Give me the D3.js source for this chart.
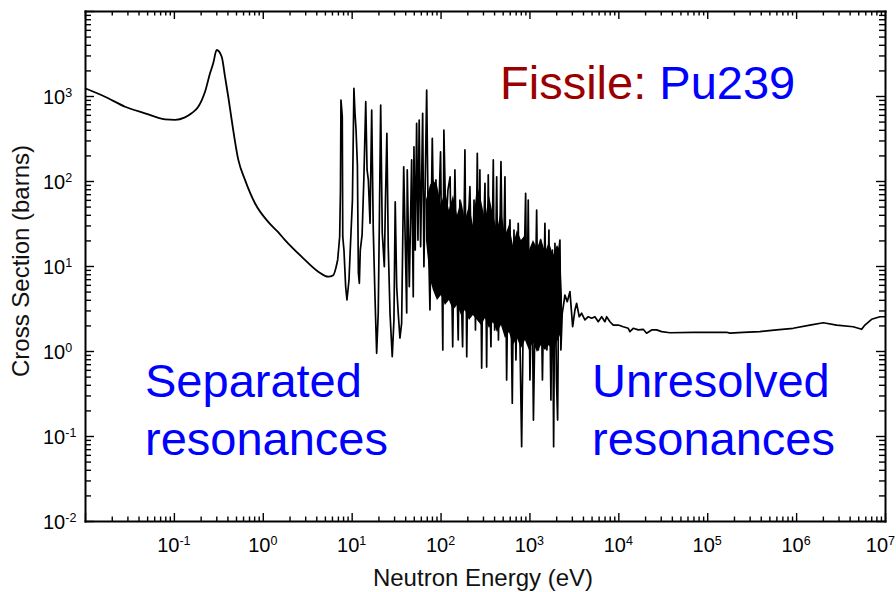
<!DOCTYPE html>
<html><head><meta charset="utf-8">
<script src="https://cdn.jsdelivr.net/npm/d3@7"></script>
<style>
body{margin:0;background:#fff}
svg{display:block}
text{font-family:"Liberation Sans",Arial,Helvetica,sans-serif}
</style>
</head><body>
<svg id="c" width="896" height="592"></svg>
<script>
// ---- data: [energy (eV), cross section (barns)] ----
const thermal = [[0.01,1233],[0.0168,980],[0.0282,748],[0.0473,626],[0.0794,532],[0.103,525],[0.133,561],[0.158,626],[0.188,748],[0.206,897],[0.224,1122],[0.255,1850],[0.277,2427],[0.303,3475],[0.345,2900],[0.376,1687],[0.409,980],[0.447,522],[0.531,177],[0.631,103],[0.817,54.7],[1.15,33],[1.49,25],[1.78,20.2],[2.73,12.9],[4.21,8.57],[5.46,7.48],[6.21,7.8],[6.96,11.8]];
const resolved = [[6.96,11.8],[7.33,22.1],[7.48,78],[7.58,897],[7.84,571],[7.94,22],[8.19,15.4],[8.56,5.7],[8.85,3.98],[9.33,6.84],[9.64,15.4],[10.2,59.8],[10.6,1233],[10.9,631],[11.2,398],[11.6,154],[11.9,8.27],[12.2,6.26],[12.5,15.4],[13.1,23.2],[13.7,103],[14.4,857],[14.9,135],[15.4,103],[16.1,31.8],[16.8,684],[17.5,26.5],[18.3,4.35],[19.1,0.94],[19.9,2.8],[20.5,34.8],[21.2,784],[22.1,24.3],[23.3,9.8],[24.0,59.8],[24.9,364],[25.8,16.9],[27.0,2.8],[28.6,0.857],[29.9,2.32],[30.9,57],[32.1,5.7],[33.4,2.8],[34.9,1.42],[36.5,2.13],[38.5,147],
[41.6,2.8],[42.2,135],[44.5,5.7],[47.3,177],[49.3,4.35],[50.2,253],[51.9,15.4],[53.8,478],[55.7,20.2],[57.5,522],[59.7,16.9],[62.9,625],[65.0,9.8],[69.8,1177],[72.8,26.5],[76.0,3.04],[80.7,318],[84.9,11.8],[88.7,103],[93.5,20.2],[100,221],[106,1.03],[109,398],[115,26.5],[121,78],[128,112],[137,1.12],[145,135],[151,11.8],[158,1.35],[165,59.8],[172,3.98],[177,1.12],[188,232],[197,0.857],[206,34.8],[214,85.7],[226,3.98],[238,59.8],[247,1.77],[259,212],[270,3.98],
[277,135],[290,0.63],[300,11.8],[316,94],[330,0.65],[344,118],[359,3.98],[369,1.12],[392,177],[406,1.77],[428,112],[448,1.35],[478,169],[503,3.98],[530,112],[554,0.456],[577,15.4],[604,34.8],[641,0.243],[670,26.5],[705,0.784],[748,31.8],[782,1.35],[817,0.0748],[857,3.98],[906,71.7],[937,1.77],[969,59.8],[1013,0.456],[1067,8.97],[1109,0.154],[1205,45.6],[1262,1.03],[1330,20.2],[1400,0.456],[1493,31.8],[1573,1.03],[1656,26.5],[1745,0.265],[1814,15.4],[1871,0.0748],[1936,18.5],[2013,0.456],[2075,0.154],[2147,15.4],[2203,20.2],[2259,1.03],[2338,2.78]];
const unresolved = [[2462,3.98],[2506,4.56],[2661,3.8],[2855,4.99],[3063,1.93],[3251,3.04],[3396,3.64],[3632,2.53],[3866,2.78],[4210,2.32],[4586,2.53],[5008,2.43],[5455,2.53],[5942,2.21],[6491,2.53],[7069,2.21],[7385,2.53],[8049,2.21],[8767,2.02],[9980,2.02],[11350,1.93],[12920,1.85],[13500,1.69],[14710,1.85],[16740,1.77],[19060,1.8],[20800,1.62],[23700,1.77],[27000,1.77],[30700,1.69],[38000,1.64],[69600,1.66],[165000,1.66],[180000,1.62],[254000,1.66],[391000,1.69],[603000,1.77],[927000,1.85],[1.43e6,2.02],[2.02e6,2.15],[2.86e6,2.02],[4.39e6,1.93],[5.46e6,1.8],[5.94e6,2.02],[7.07e6,2.36],[8.77e6,2.53],[1e7,2.53]];
// dense (unresolvable on this scale) resonance band: energy, upper and lower envelope
const bandEnergy = [68.5,76,82.1,91.1,101,112,124,138,153,170,188,209,231,257,285,316,350,389,431,478,530,588,652,723,802,890,987,1095,1214,1347,1494,1657,1838,2039,2203,2321];
const bandHigh   = [60,89.7,103,89.7,52.2,78.4,45.6,68.4,39.8,59.8,34.8,52.2,30.4,89.7,59.8,34.8,68.4,39.8,26.5,45.6,23.2,30.4,17.7,26.5,20.2,23.2,15.4,20.2,16.3,21.3,14.6,19.2,13.5,17.7,15.4,4.56];
const bandLow    = [20,7,5.22,3.98,4.56,3.48,3.98,3.04,3.48,2.65,3.04,2.32,2.65,2.32,2.02,2.44,1.87,2.19,1.67,2.02,1.42,1.67,1.18,1.42,1.08,1.35,1.03,1.28,0.973,1.18,1.03,1.18,0.973,1.28,1.54,2.32];
// tick labels (powers of ten)
const xLabelExps = [-1,0,1,2,3,4,5,6,7];
const yLabelExps = [-2,-1,0,1,2,3];
// texts
const xTitle = "Neutron Energy (eV)";
const yTitle = "Cross Section (barns)";
const titleParts = ["Fissile: ", "Pu239"];
const regionLabels = [["Separated","resonances"],["Unresolved","resonances"]];

// ---- drawing ----
const svg = d3.select("#c");
const x = d3.scaleLog().domain([1e-2,1e7]).range([85,885]);
const y = d3.scaleLog().domain([1e-2,1e4]).range([521,11]);
const [X0,X1] = x.range(), [Y0,Y1] = y.range();
const isMajor = v => Math.abs(Math.log10(v) - Math.round(Math.log10(v))) < 1e-9;
const xt = x.ticks(), yt = y.ticks();

// data band + curve
const band = bandEnergy.map((e,i)=>({e, hi:bandHigh[i], lo:bandLow[i]}));
svg.append("path").datum(band)
  .attr("d", d3.area().x(d=>x(d.e)).y0(d=>y(d.lo)).y1(d=>y(d.hi)))
  .attr("fill","#000");
svg.append("path").datum(thermal)
  .attr("d", d3.line().curve(d3.curveMonotoneX).x(d=>x(d[0])).y(d=>y(d[1])))
  .attr("fill","none").attr("stroke","#000").attr("stroke-width",1.8).attr("stroke-linejoin","round");
svg.append("path").datum(resolved.concat(unresolved))
  .attr("d", d3.line().x(d=>x(d[0])).y(d=>y(d[1])))
  .attr("fill","none").attr("stroke","#000").attr("stroke-width",1.7).attr("stroke-linejoin","round");

function styleAxis(g){
  g.select(".domain").attr("stroke","#000").attr("stroke-width",2).attr("stroke-linecap","square");
  g.selectAll(".tick line").attr("stroke","#000").attr("stroke-width",1.4);
  g.selectAll(".tick text").remove();
}
svg.append("g").attr("transform",`translate(0,${Y0})`)
  .call(d3.axisBottom(x).tickValues(xt).tickSizeOuter(0)).call(styleAxis)
  .selectAll(".tick line").attr("y2", d=>isMajor(d)?-8:-4.5);
svg.append("g").attr("transform",`translate(0,${Y1})`)
  .call(d3.axisTop(x).tickValues(xt).tickSizeOuter(0)).call(styleAxis)
  .selectAll(".tick line").attr("y2", d=>isMajor(d)?8:4.5);
svg.append("g").attr("transform",`translate(${X0},0)`)
  .call(d3.axisLeft(y).tickValues(yt).tickSizeOuter(0)).call(styleAxis)
  .selectAll(".tick line").attr("x2", d=>isMajor(d)?9:6);
svg.append("g").attr("transform",`translate(${X1},0)`)
  .call(d3.axisRight(y).tickValues(yt).tickSizeOuter(0)).call(styleAxis)
  .selectAll(".tick line").attr("x2", d=>isMajor(d)?-9:-6);

// tick labels
const last = xLabelExps[xLabelExps.length-1];
const xl = svg.append("g").selectAll("text").data(xLabelExps).join("text")
  .attr("x", e=> e===last ? 895 : x(Math.pow(10,e))).attr("y", Y0+31)
  .attr("text-anchor", e=> e===last ? "end" : "middle").attr("font-size",20).attr("fill","#000");
xl.append("tspan").text("10");
xl.append("tspan").attr("font-size",12.5).attr("dy",-7).text(e=>String(e));
const yl = svg.append("g").selectAll("text").data(yLabelExps).join("text")
  .attr("x", 43).attr("y", e=>y(Math.pow(10,e))+8)
  .attr("font-size",20).attr("fill","#000");
yl.append("tspan").text("10");
yl.append("tspan").attr("font-size",12.5).attr("dy",-7).text(e=>String(e));

// axis titles
svg.append("text").attr("x",(X0+X1)/2-2).attr("y",586).attr("text-anchor","middle")
  .attr("font-size",24).attr("fill","#111").text(xTitle);
svg.append("text").attr("transform",`translate(29,${(Y0+Y1)/2-5}) rotate(-90)`)
  .attr("text-anchor","middle").attr("font-size",24).attr("fill","#111").text(yTitle);

// annotations
const t = svg.append("text").attr("x",500).attr("y",99).attr("font-size",47);
t.append("tspan").attr("fill","#9B0000").text(titleParts[0]);
t.append("tspan").attr("fill","#0000FF").text(titleParts[1]);
const regionX = [145, 592];
regionLabels.forEach((lines,i)=>{
  lines.forEach((s,j)=>{
    svg.append("text").attr("x",regionX[i]).attr("y",397+58*j)
      .attr("font-size",47).attr("fill","#0000FF").text(s);
  });
});
</script>
</body></html>
